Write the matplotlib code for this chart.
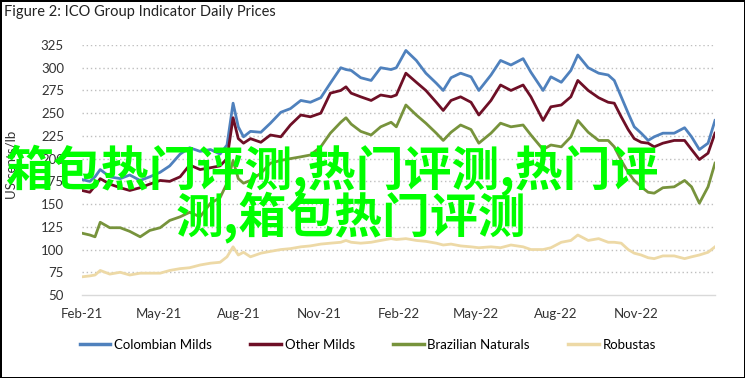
import matplotlib
matplotlib.use("Agg")
import matplotlib.pyplot as plt
import matplotlib.dates as mdates
import numpy as np
import pandas as pd

dates = ["2021-02-01", "2021-02-10", "2021-02-16", "2021-02-22", "2021-03-05", "2021-03-17",
         "2021-03-28", "2021-04-09", "2021-04-20", "2021-05-02", "2021-05-13", "2021-05-25",
         "2021-06-05", "2021-06-17", "2021-06-29", "2021-07-10", "2021-07-18", "2021-07-25",
         "2021-07-31", "2021-08-06", "2021-08-14", "2021-08-26", "2021-09-06", "2021-09-18",
         "2021-09-29", "2021-10-11", "2021-10-22", "2021-11-03", "2021-11-14", "2021-11-26",
         "2021-12-02", "2021-12-08", "2021-12-19", "2021-12-31", "2022-01-11", "2022-01-23",
         "2022-01-29", "2022-02-09", "2022-02-21", "2022-03-04", "2022-03-16", "2022-03-24",
         "2022-04-02", "2022-04-13", "2022-04-25", "2022-05-04", "2022-05-18", "2022-05-29",
         "2022-06-10", "2022-06-24", "2022-07-03", "2022-07-17", "2022-07-26", "2022-08-07",
         "2022-08-18", "2022-08-26", "2022-09-07", "2022-09-19", "2022-09-30", "2022-10-07",
         "2022-10-15", "2022-10-23", "2022-10-30", "2022-11-07", "2022-11-15", "2022-11-22",
         "2022-12-02", "2022-12-15", "2022-12-27", "2023-01-04", "2023-01-13", "2023-01-23",
         "2023-01-31"]

colombian_milds = [177, 175, 180, 188, 180, 178, 182, 176, 180, 185, 192, 205, 212, 208, 210, 205,
                   215, 261, 235, 224, 230, 229, 239, 251, 255, 264, 262, 267, 283, 300, 298, 297,
                   289, 286, 300, 298, 300, 319, 308, 294, 283, 275, 289, 294, 290, 275, 292, 308,
                   303, 310, 295, 275, 290, 284, 297, 314, 300, 294, 292, 286, 268, 250, 235, 228,
                   220, 224, 228, 228, 234, 224, 210, 217, 242]

other_milds = [165, 163, 170, 178, 172, 168, 165, 168, 172, 176, 175, 180, 193, 188, 190, 192,
               200, 245, 222, 217, 222, 218, 226, 224, 237, 248, 246, 250, 272, 275, 279, 272,
               268, 264, 270, 268, 270, 294, 284, 275, 262, 253, 264, 268, 262, 248, 264, 281,
               275, 281, 268, 242, 257, 259, 268, 286, 275, 267, 262, 261, 246, 232, 222, 218,
               217, 213, 217, 220, 220, 210, 199, 206, 228]

brazilian_naturals = [118, 116, 114, 130, 124, 124, 120, 114, 121, 124, 132, 136, 141, 136, 151, 157,
                      173, 198, 178, 173, 176, 184, 195, 198, 200, 202, 204, 213, 228, 240, 245, 238,
                      230, 226, 235, 240, 235, 259, 248, 239, 228, 220, 229, 237, 232, 217, 228, 239,
                      235, 237, 226, 210, 215, 213, 224, 242, 229, 220, 220, 213, 198, 185, 176, 169,
                      163, 162, 168, 169, 176, 169, 151, 169, 195]

robustas = [70, 71, 72, 77, 73, 75, 72, 74, 74, 74, 77, 79, 80, 83, 85, 86,
            92, 103, 94, 97, 92, 96, 98, 100, 101, 103, 104, 106, 107, 108, 110, 108,
            107, 108, 110, 112, 111, 112, 110, 109, 107, 105, 106, 104, 103, 102, 103, 102,
            105, 103, 100, 100, 102, 108, 110, 116, 110, 112, 108, 108, 107, 100, 96, 94,
            91, 90, 93, 93, 90, 92, 94, 97, 103]

series_names = ["Colombian Milds", "Other Milds", "Brazilian Naturals", "Robustas"]
y_ticks = [50, 75, 100, 125, 150, 175, 200, 225, 250, 275, 300, 325]

title = "Figure 2: ICO Group Indicator Daily Prices"
y_label = "US cents/lb"
watermark_1 = "箱包热门评测,热门评测,热门评"
watermark_2 = "测,箱包热门评测"

colors = ["#4F81BD", "#6E0F26", "#77933C", "#EDD9A6"]

W, H = 745, 378
fig = plt.figure(figsize=(W / 100, H / 100), dpi=100, facecolor="white",
                 edgecolor="black", linewidth=2)
ax = fig.add_axes([82 / W, 1 - 295 / H, (715 - 82) / W, (295 - 45) / H])

x = pd.to_datetime(dates)
for vals, name, c in zip([colombian_milds, other_milds, brazilian_naturals, robustas],
                         series_names, colors):
    ax.plot(x, vals, color=c, lw=2.0, label=name, solid_joinstyle="round")

ax.set_ylim(50, 325)
ax.set_yticks(y_ticks)
ax.set_xlim(x[0], x[-1])
ax.xaxis.set_major_locator(mdates.MonthLocator(bymonth=[2, 5, 8, 11]))
ax.xaxis.set_major_formatter(mdates.DateFormatter("%b-%y"))

for v in y_ticks[1:]:
    ax.axhline(v, color="#BFBFBF", lw=1.0, ls=(0, (1, 2)), zorder=0)

for s in ["top", "right", "left"]:
    ax.spines[s].set_visible(False)
ax.spines["bottom"].set_color("#D9D9D9")
ax.spines["bottom"].set_linewidth(1.0)
ax.tick_params(axis="both", length=0, labelsize=9.5, colors="#333333")
ax.tick_params(axis="y", pad=13)
ax.tick_params(axis="x", pad=9)
for lab in ax.get_xticklabels() + ax.get_yticklabels():
    lab.set_fontfamily("Lato")

fig.text(4 / W, 1 - 12 / H, title, fontsize=10.5, family="Lato", va="center", ha="left",
         color="#222222")
fig.text(12 / W, 1 - 165 / H, y_label, fontsize=9.5, family="Lato", rotation=90,
         va="center", ha="center", color="#333333")

leg = fig.legend(loc="center", bbox_to_anchor=(368 / W, 1 - 345 / H), ncol=4, frameon=False,
                 prop={"family": "Lato", "size": 9.5}, handlelength=2.3, handletextpad=0.3,
                 columnspacing=2.9)
for line in leg.get_lines():
    line.set_linewidth(2.5)

wm_font = ["Noto Sans CJK SC", "DejaVu Sans"]
fig.text(5 / W, 1 - 170 / H, watermark_1, fontsize=34.5, family=wm_font, color="#00FF00",
         va="center", ha="left", weight="bold")
fig.text(176 / W, 1 - 217 / H, watermark_2, fontsize=34.5, family=wm_font, color="#00FF00",
         va="center", ha="left", weight="bold")

fig.savefig("out.png", dpi=100)
